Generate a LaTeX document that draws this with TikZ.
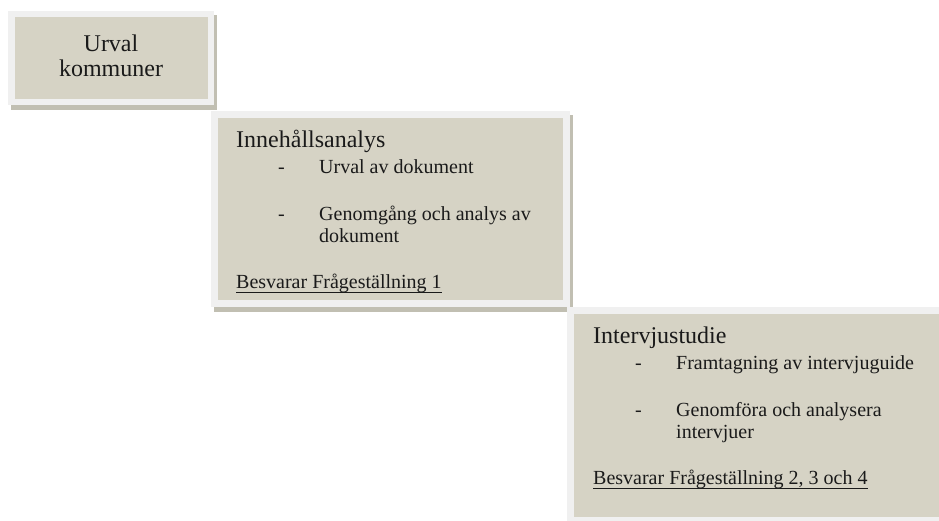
\documentclass[tikz,border=0pt]{standalone}
\usepackage{fontspec}
\setmainfont{Liberation Serif}
\usetikzlibrary{calc}

\definecolor{panelfill}{HTML}{D6D3C5}
\definecolor{panelframe}{HTML}{F0F0F0}
\definecolor{panelshadow}{HTML}{C1BFB2}
\definecolor{ink}{HTML}{1A1A1A}

\tikzset{
    txt/.style={anchor=base west, inner sep=0pt, text=ink, font=\fontsize{20}{24}\selectfont},
    head/.style={txt, font=\fontsize{24}{28}\selectfont},
    uline/.style={ink, line width=0.9pt}
}

\begin{document}
\begin{tikzpicture}[x=1pt, y=-1pt]
    \useasboundingbox (0,0) rectangle (939,520);
    \clip (0,0) rectangle (939,520);

    \pgfmathsetmacro{\frame}{7}
    \pgfmathsetmacro{\dash}{42}
    \pgfmathsetmacro{\indent}{83}

    % panels: shadow, light frame, fill
    \path [fill=panelshadow] (11,15) rectangle (217,110);
    \path [fill=panelframe] (8,11) rectangle (214,105);
    \path [fill=panelfill] (8+\frame,11+\frame-1) rectangle (214-\frame+1,105-\frame+1);

    \path [fill=panelshadow] (214,115) rectangle (573,312);
    \path [fill=panelframe] (211,111) rectangle (570,307);
    \path [fill=panelfill] (211+\frame,111+\frame) rectangle (570-\frame,307-\frame);

    \path [fill=panelframe] (567,307) rectangle (950,530);
    \path [fill=panelfill] (567+\frame,307+\frame) rectangle (945,517);

    % Urval kommuner
    \node [head, anchor=base] (urval) at (111,51) {Urval};
    \node [head, anchor=base] (kommuner) at (111,76) {kommuner};

    % Innehållsanalys
    \pgfmathsetmacro{\hx}{236}
    \pgfmathsetmacro{\hy}{147}
    \node [head] (analys) at (\hx,\hy) {Innehållsanalys};
    \node [txt] (analysdashA) at (\hx+\dash,\hy+26) {-};
    \node [txt] (analysA) at (\hx+\indent,\hy+26) {Urval av dokument};
    \node [txt] (analysdashB) at (\hx+\dash,\hy+73) {-};
    \node [txt] (analysB) at (\hx+\indent,\hy+73) {Genomgång och analys av};
    \node [txt] (analysC) at (\hx+\indent,\hy+95) {dokument};
    \node [txt] (analysans) at (\hx,\hy+141) {Besvarar Frågeställning 1};
    \draw [uline] ($(analysans.base west)+(0,4)$) -- ($(analysans.base east)+(0,4)$);

    % Intervjustudie
    \pgfmathsetmacro{\hx}{593}
    \pgfmathsetmacro{\hy}{343}
    \node [head] (studie) at (\hx,\hy) {Intervjustudie};
    \node [txt] (studiedashA) at (\hx+\dash,\hy+26) {-};
    \node [txt] (studieA) at (\hx+\indent,\hy+26) {Framtagning av intervjuguide};
    \node [txt] (studiedashB) at (\hx+\dash,\hy+73) {-};
    \node [txt] (studieB) at (\hx+\indent,\hy+73) {Genomföra och analysera};
    \node [txt] (studieC) at (\hx+\indent,\hy+95) {intervjuer};
    \node [txt] (studieans) at (\hx,\hy+141) {Besvarar Frågeställning 2, 3 och 4};
    \draw [uline] ($(studieans.base west)+(0,4)$) -- ($(studieans.base east)+(0,4)$);

\end{tikzpicture}
\end{document}
